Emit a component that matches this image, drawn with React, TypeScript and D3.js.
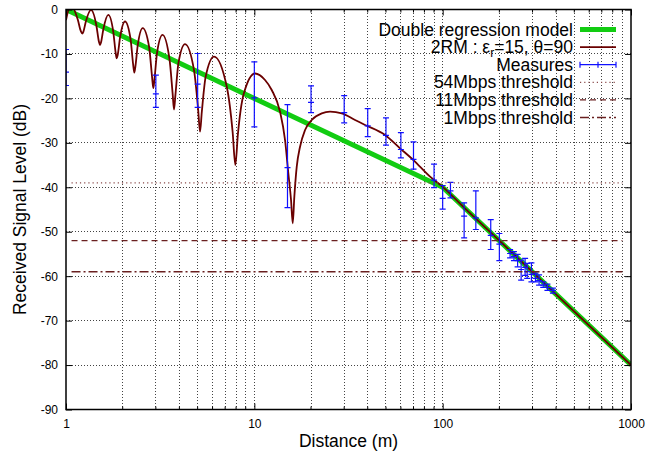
import React from "react";
import * as d3 from "d3";

// 2-ray model curve (distance in m, level in dB)
const rayDistances = [
  1, 1.059, 1.1535, 1.199, 1.2207, 1.2371, 1.2738, 1.3577, 1.4505, 1.4949,
  1.5156, 1.5349, 1.5783, 1.6772, 1.784, 1.8352, 1.859, 1.8827, 1.9359, 2.0574,
  2.2029, 2.2725, 2.3051, 2.335, 2.4016, 2.5545, 2.7612, 2.8615, 2.908, 2.9492,
  3.0423, 3.2546, 3.5416, 3.6813, 3.7463, 3.8098, 3.9537, 4.2855, 4.7849, 5.0323,
  5.1483, 5.2597, 5.5139, 6.1094, 7.1441, 7.6736, 7.9269, 8.1808, 8.7716, 10.093,
  11.397, 12.371, 13.693, 14.555, 15.156, 15.663, 15.991, 16.308, 16.795, 17.486,
  18.59, 20.175, 22.804, 25.235, 29.114, 34.26, 38.72, 49.43, 59.4, 69.89,
  85.72, 100, 130, 200, 400, 1000,
];
const rayLevels = [
  -2.4, 1.0, -2.2, -4.89, -5.4, -4.98, -2.75, -0.1, -3.66, -7.21,
  -8.0, -7.39, -4.46, -1.2, -5.12, -9.73, -11.0, -10.17, -6.35, -2.7,
  -6.72, -12.36, -14.2, -12.9, -8.2, -4.2, -8.38, -15.0, -17.7, -15.73,
  -9.8, -5.7, -11.08, -18.8, -22.5, -19.27, -12.06, -7.8, -13.71, -22.57,
  -27.5, -23.11, -15.16, -10.6, -17.43, -27.68, -35.0, -28.06, -19.09, -14.4,
  -15.86, -18.11, -23.0, -29.36, -36.86, -42.87, -48.1, -42.12, -35.37, -30.87,
  -27.11, -24.86, -23.36, -23.0, -23.36, -24.86, -25.98, -28.24, -31.23, -33.87,
  -37.62, -39.9, -44.6, -52.0, -64.1, -80.0,
];

// double regression model
const modelDistances = [1, 100, 1000];
const modelLevels = [0, -40, -80];

// measures with error bars
const measureDistances = [1, 3, 5, 10, 15, 20, 30, 40, 50, 60, 70, 90, 100, 110, 130, 150, 180, 200,
  228, 239, 250, 261, 274, 281, 296, 311, 325, 342, 360, 385];
const measureLevels = [-14.1, -19.0, -16.8, -19.9, -35.6, -20.9, -23.2, -26.2, -28.3, -31.5, -33.7, -38.4, -42.5, -40.8, -46.5, -46.9, -50.8, -52.8,
  -54.9, -55.6, -56.5, -58.5, -58.0, -59.0, -59.6, -60.5, -61.0, -62.0, -62.5, -63.2];
const measureHigh = [-9.0, -14.75, -9.9, -11.8, -21.4, -17.2, -19.4, -22.3, -24.4, -27.7, -29.8, -34.8, -39.6, -38.9, -43.5, -40.8, -47.3, -50.4,
  -54.0, -54.5, -55.1, -56.4, -56.0, -57.1, -57.0, -59.3, -59.7, -61.3, -61.8, -62.7];
const measureLow = [-17.1, -22.0, -22.0, -26.4, -44.6, -23.2, -25.5, -28.6, -30.5, -33.4, -35.9, -40.1, -44.9, -42.4, -51.4, -49.5, -54.0, -56.5,
  -55.9, -56.5, -57.9, -60.9, -59.8, -60.5, -61.3, -61.3, -62.0, -62.5, -63.2, -63.8];

const thresholdNames = ["54Mbps threshold", "11Mbps threshold", "1Mbps threshold"];
const thresholdLevels = [-39, -52, -59];
const thresholdRange = [1.07, 900];

const xTicks = [1, 10, 100, 1000];
const yTicks = [0, -10, -20, -30, -40, -50, -60, -70, -80, -90];

const FONT = "'Liberation Sans', Arial, Helvetica, sans-serif";
const RED = "#6a0000";
const GREEN = "#12cc12";
const BLUE = "#1010ff";
const dashes = ["1.2,3", "6,4", "9,3,2,3"];

const App = () => {
  const ref = React.useRef<SVGSVGElement>(null);

  React.useEffect(() => {
    draw();
  }, []);

  function draw() {
    const svg = d3.select(ref.current);
    svg.selectAll("*").remove();

    const left = 66, right = 631, top = 9.5, bottom = 409.5;
    const x = d3.scaleLog().domain([1, 1000]).range([left, right]);
    const y = d3.scaleLinear().domain([-90, 0]).range([bottom, top]);

    svg.append("rect").attr("width", 670).attr("height", 454).attr("fill", "white");

    svg.append("defs").append("clipPath").attr("id", "plotclip")
      .append("rect").attr("x", left).attr("y", top)
      .attr("width", right - left).attr("height", bottom - top);

    // minor distances 2..9 for each decade
    const minors: number[] = [];
    [1, 10, 100].forEach((dec) => {
      for (let k = 2; k <= 9; k++) minors.push(dec * k);
    });

    // grid
    const grid = svg.append("g").attr("stroke", "#444").attr("stroke-width", 1)
      .attr("stroke-dasharray", "1,2").attr("shape-rendering", "crispEdges");
    grid.selectAll("line.vx")
      .data(minors.concat([10, 100]))
      .enter().append("line")
      .attr("x1", (d) => x(d)).attr("x2", (d) => x(d))
      .attr("y1", top).attr("y2", bottom);
    grid.selectAll("line.hy")
      .data(yTicks.filter((d) => d !== 0 && d !== -90))
      .enter().append("line")
      .attr("x1", left).attr("x2", right)
      .attr("y1", (d) => y(d)).attr("y2", (d) => y(d));

    const plot = svg.append("g").attr("clip-path", "url(#plotclip)");

    // double regression model
    const line = d3.line<number>()
      .x((d, i) => x(modelDistances[i]))
      .y((d) => y(d));
    plot.append("path")
      .attr("d", line(modelLevels))
      .attr("fill", "none").attr("stroke", GREEN).attr("stroke-width", 5);

    // 2 ray model
    const rayLine = d3.line<number>()
      .x((d, i) => x(rayDistances[i]))
      .y((d) => y(d))
      .curve(d3.curveMonotoneX);
    plot.append("path")
      .attr("d", rayLine(rayLevels))
      .attr("fill", "none").attr("stroke", RED).attr("stroke-width", 1.8);

    // measures
    const bars = plot.append("g").attr("stroke", BLUE).attr("stroke-width", 1.2);
    measureDistances.forEach((d, i) => {
      const cx = x(d);
      bars.append("line").attr("x1", cx).attr("x2", cx)
        .attr("y1", y(measureHigh[i])).attr("y2", y(measureLow[i]));
      [measureHigh[i], measureLow[i], measureLevels[i]].forEach((v) => {
        bars.append("line").attr("x1", cx - 3).attr("x2", cx + 3)
          .attr("y1", y(v)).attr("y2", y(v));
      });
    });

    // thresholds
    thresholdLevels.forEach((v, i) => {
      plot.append("line")
        .attr("x1", x(thresholdRange[0])).attr("x2", x(thresholdRange[1]))
        .attr("y1", y(v)).attr("y2", y(v))
        .attr("stroke", i === 0 ? "#8a4a4a" : "#6a2020")
        .attr("stroke-width", i === 0 ? 1.2 : 1.4)
        .attr("stroke-dasharray", dashes[i]);
    });

    // axes
    const fmt = (d: any) => String(d);
    const yAxis = svg.append("g").attr("transform", `translate(${left},0)`)
      .call(d3.axisLeft(y).tickValues(yTicks).tickFormat(fmt).tickSizeInner(-6).tickSizeOuter(0).tickPadding(8));
    const xAxis = svg.append("g").attr("transform", `translate(0,${bottom})`)
      .call(d3.axisBottom(x).tickValues(xTicks).tickFormat(fmt).tickSizeInner(-6).tickSizeOuter(0).tickPadding(10));
    svg.append("g").attr("transform", `translate(${right},0)`)
      .call(d3.axisRight(y).tickValues(yTicks).tickFormat(() => "").tickSizeInner(-6).tickSizeOuter(0));
    svg.append("g").attr("transform", `translate(0,${top})`)
      .call(d3.axisTop(x).tickValues(xTicks).tickFormat(() => "").tickSizeInner(-6).tickSizeOuter(0));
    svg.selectAll(".domain").remove();
    [yAxis, xAxis].forEach((a) => a.selectAll("text")
      .attr("font-family", FONT).attr("font-size", 12).attr("fill", "#000"));

    // minor ticks top and bottom
    const minorTicks = svg.append("g").attr("stroke", "#000");
    minors.forEach((m) => {
      minorTicks.append("line").attr("x1", x(m)).attr("x2", x(m)).attr("y1", bottom).attr("y2", bottom - 3);
      minorTicks.append("line").attr("x1", x(m)).attr("x2", x(m)).attr("y1", top).attr("y2", top + 3);
    });

    // border
    svg.append("rect").attr("x", left).attr("y", top)
      .attr("width", right - left).attr("height", bottom - top)
      .attr("fill", "none").attr("stroke", "#000").attr("stroke-width", 1.5);

    // labels
    svg.append("text").attr("x", (left + right) / 2).attr("y", 447)
      .attr("text-anchor", "middle").attr("font-family", FONT).attr("font-size", 17.5)
      .text("Distance (m)");
    svg.append("text").attr("transform", `translate(26,${(top + bottom) / 2}) rotate(-90)`)
      .attr("text-anchor", "middle").attr("font-family", FONT).attr("font-size", 17.5)
      .text("Received Signal Level (dB)");

    // legend
    const legend = svg.append("g").attr("font-family", FONT).attr("font-size", 17.5);
    const rowY = (i: number) => 29.5 + i * 17.6;
    const tx = 573, s0 = 580, s1 = 616;
    const addText = (i: number) => legend.append("text").attr("x", tx).attr("y", rowY(i)).attr("dy", "0.35em").attr("text-anchor", "end");

    addText(0).text("Double regression model");
    legend.append("line").attr("x1", s0).attr("x2", s1).attr("y1", rowY(0)).attr("y2", rowY(0))
      .attr("stroke", GREEN).attr("stroke-width", 5);

    const t2 = addText(1);
    t2.append("tspan").text("2RM : ε");
    t2.append("tspan").attr("font-size", 12).attr("dy", 4).text("r");
    t2.append("tspan").attr("dy", -4).text("=15, θ=90");
    legend.append("line").attr("x1", s0).attr("x2", s1).attr("y1", rowY(1)).attr("y2", rowY(1))
      .attr("stroke", RED).attr("stroke-width", 1.8);

    addText(2).text("Measures");
    const ms = legend.append("g").attr("stroke", BLUE).attr("stroke-width", 1.2);
    ms.append("line").attr("x1", s0).attr("x2", s1).attr("y1", rowY(2)).attr("y2", rowY(2));
    [s0, (s0 + s1) / 2, s1].forEach((sx) => {
      ms.append("line").attr("x1", sx).attr("x2", sx).attr("y1", rowY(2) - 3).attr("y2", rowY(2) + 3);
    });

    thresholdNames.forEach((name, i) => {
      addText(3 + i).text(name);
      legend.append("line").attr("x1", s0).attr("x2", s1).attr("y1", rowY(3 + i)).attr("y2", rowY(3 + i))
        .attr("stroke", i === 0 ? "#8a4a4a" : "#6a2020")
        .attr("stroke-width", i === 0 ? 1.2 : 1.4)
        .attr("stroke-dasharray", dashes[i]);
    });
  }

  return (
    <svg ref={ref} width={670} height={454} style={{ position: "absolute", left: 0, top: 0 }} />
  );
};

export default App;
